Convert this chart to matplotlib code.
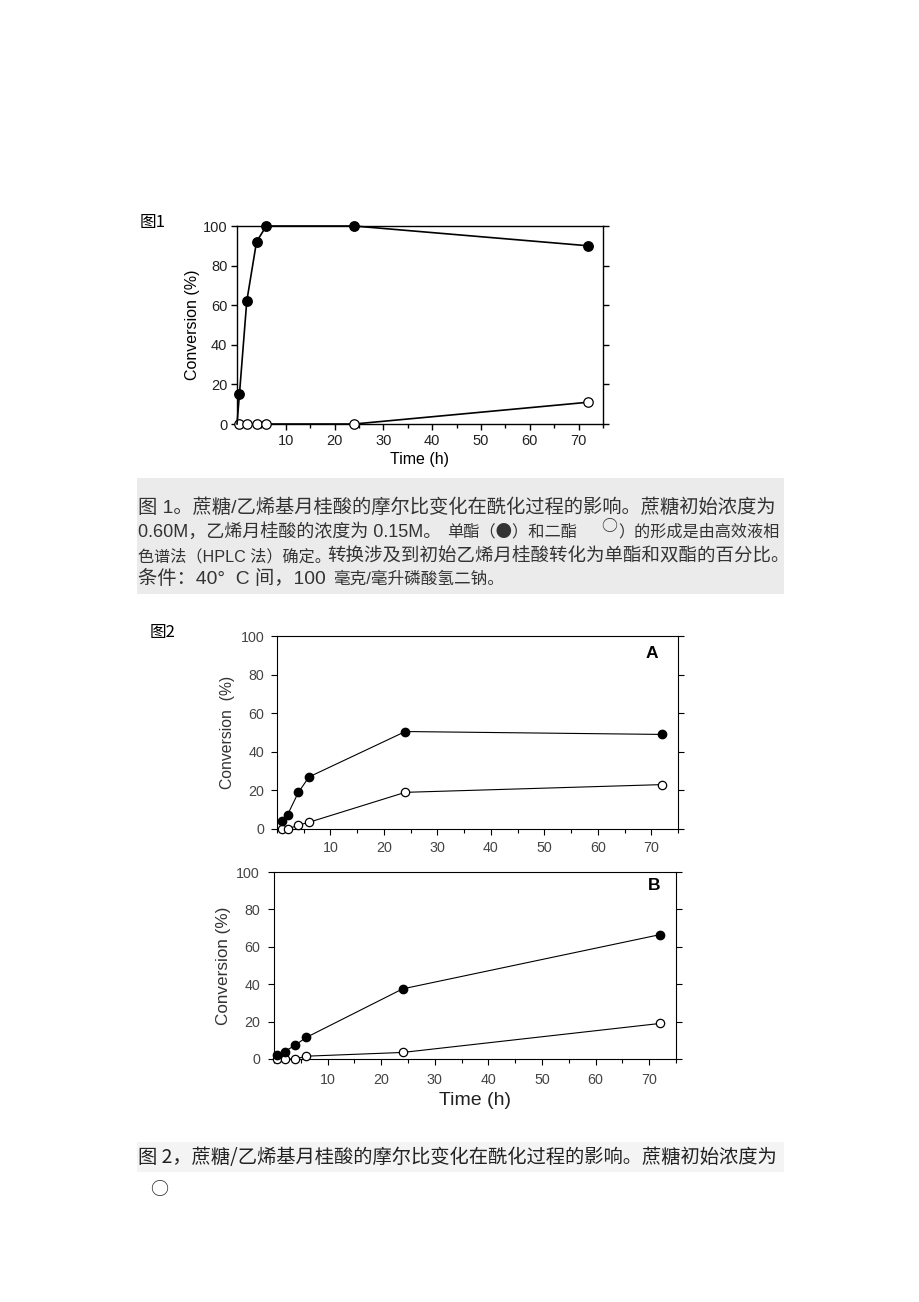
import matplotlib.pyplot as plt
import matplotlib.patches as mpatches
from matplotlib.ticker import MultipleLocator

W, H = 920, 1302

# ---- data ----
fig1_time_mono = [0, 0.5, 2, 4, 6, 24, 72]
fig1_mono = [0, 15, 62, 92, 100, 100, 90]
fig1_time_di = [0.5, 2, 4, 6, 24, 72]
fig1_di = [0, 0, 0, 0, 0, 11]

fig2a_time = [1, 2, 4, 6, 24, 72]
fig2a_mono = [4, 7.5, 19, 27, 50.5, 49]
fig2a_di = [0, 0, 2, 3.5, 19, 23]

fig2b_time = [0.5, 2, 4, 6, 24, 72]
fig2b_mono = [2, 4, 7.5, 11.5, 37.5, 66.5]
fig2b_di = [0, 0, 0, 1.5, 3.5, 19]

yticks = [0, 20, 40, 60, 80, 100]
xticks = [10, 20, 30, 40, 50, 60, 70]

LATIN = ['Liberation Sans', 'Noto Sans CJK SC']
CJK = ['Noto Sans CJK SC', 'DejaVu Sans']


def px(x, y):
    return x / W, 1 - y / H


def add_axes(left, top, right, bottom):
    return fig.add_axes([left / W, 1 - bottom / H, (right - left) / W, (bottom - top) / H])


def style_axes(ax, tick_size, tick_color, lw, pad=3):
    ax.set_xlim(0, 75)
    ax.set_ylim(0, 100)
    ax.set_yticks(yticks)
    ax.set_xticks(xticks)
    ax.xaxis.set_minor_locator(MultipleLocator(5))
    ax.tick_params(axis='both', which='major', direction='out', length=4, width=lw,
                   labelsize=tick_size, labelcolor=tick_color, pad=pad)
    ax.tick_params(axis='x', which='minor', direction='out', length=3, width=lw)
    ax.tick_params(axis='y', which='both', right=True)
    for lab in ax.get_xticklabels() + ax.get_yticklabels():
        lab.set_family(LATIN)
    for s in ax.spines.values():
        s.set_linewidth(lw)


def draw_series(ax, t_mono, mono, t_di, di, ms, lw, mono_every=None):
    ax.plot(t_di, di, color='black', lw=lw, marker='o', ms=ms, mfc='white',
            mec='black', mew=0.9, clip_on=False, zorder=3)
    ax.plot(t_mono, mono, color='black', lw=lw, marker='o', ms=ms, mfc='black',
            mec='black', clip_on=False, zorder=4, markevery=mono_every)


fig = plt.figure(figsize=(W / 100, H / 100), dpi=100)

# ---------------- figure 1 ----------------
fig.text(*px(140, 222), '图1', family=CJK, fontsize=12, va='center', ha='left')
ax1 = add_axes(237, 226, 603, 424)
style_axes(ax1, 10.5, '#222222', 1.0)
draw_series(ax1, fig1_time_mono, fig1_mono, fig1_time_di, fig1_di, 6.8, 1.2,
            mono_every=slice(1, None))
ax1.set_xlabel('Time (h)', family=LATIN, fontsize=11.5, labelpad=3)
ax1.set_ylabel('Conversion (%)', family=LATIN, fontsize=11.5, labelpad=2)

# caption for figure 1 on stippled grey panel
fig.patches.append(mpatches.Rectangle(px(137, 594), 647 / W, 116 / H,
                                      transform=fig.transFigure, facecolor='#ebebeb',
                                      edgecolor='none', zorder=0))
cap_color = '#333333'
fig.text(*px(138, 508), '图 1。蔗糖/乙烯基月桂酸的摩尔比变化在酰化过程的影响。蔗糖初始浓度为',
         family=LATIN, fontsize=13.9, color=cap_color, va='center')
fig.text(*px(138, 532), '0.60M，乙烯月桂酸的浓度为 0.15M。',
         family=LATIN, fontsize=13.0, color=cap_color, va='center')
fig.text(*px(447, 532), '单酯（●）和二酯', family=CJK, fontsize=11.7,
         color=cap_color, va='center')
fig.text(*px(601, 527), '○', family=CJK, fontsize=11.5, color=cap_color, va='center')
fig.text(*px(618, 532), '）的形成是由高效液相', family=CJK, fontsize=11.6,
         color=cap_color, va='center')
fig.text(*px(138, 557), '色谱法（HPLC 法）确定。', family=LATIN, fontsize=11.6,
         color=cap_color, va='center')
fig.text(*px(327, 557), '转换涉及到初始乙烯月桂酸转化为单酯和双酯的百分比。',
         family=CJK, fontsize=13.3, color=cap_color, va='center')
fig.text(*px(138, 579), '条件：40°  C 间，100', family=LATIN,
         fontsize=13.9, color=cap_color, va='center')
fig.text(*px(333, 579), '毫克/毫升磷酸氢二钠。', family=LATIN,
         fontsize=12, color=cap_color, va='center')

# ---------------- figure 2 ----------------
fig.text(*px(150, 632), '图2', family=CJK, fontsize=12, va='center', ha='left')

ax2a = add_axes(277, 636, 678, 829)
style_axes(ax2a, 10.3, '#444444', 0.8, pad=5)
draw_series(ax2a, fig2a_time, fig2a_mono, fig2a_time, fig2a_di, 6, 0.8)
ax2a.set_ylabel('Conversion  (%)', family=LATIN, fontsize=11.3, color='#333333', labelpad=4)
ax2a.text(0.95, 0.91, 'A', transform=ax2a.transAxes, family=LATIN, fontsize=12.5,
          fontweight='bold', ha='right', va='center')

ax2b = add_axes(274, 872, 676, 1059)
style_axes(ax2b, 10.3, '#444444', 0.8, pad=6)
draw_series(ax2b, fig2b_time, fig2b_mono, fig2b_time, fig2b_di, 6, 0.8)
ax2b.set_ylabel('Conversion (%)', family=LATIN, fontsize=12.3, color='#333333', labelpad=4)
ax2b.set_xlabel('Time (h)', family=LATIN, fontsize=14, color='#222222', labelpad=4)
ax2b.text(0.96, 0.93, 'B', transform=ax2b.transAxes, family=LATIN, fontsize=12.5,
          fontweight='bold', ha='right', va='center')

# caption for figure 2
fig.patches.append(mpatches.Rectangle(px(137, 1172), 647 / W, 30 / H,
                                      transform=fig.transFigure, facecolor='#f4f4f4',
                                      edgecolor='none', zorder=0))
fig.text(*px(138, 1158), '图 2，蔗糖/乙烯基月桂酸的摩尔比变化在酰化过程的影响。蔗糖初始浓度为',
         family=CJK, fontsize=13.9, color='#222222', va='center')
fig.text(*px(150, 1190), '○', family=CJK, fontsize=13, color='#222222', va='center')

fig.savefig('out.png', dpi=100)
